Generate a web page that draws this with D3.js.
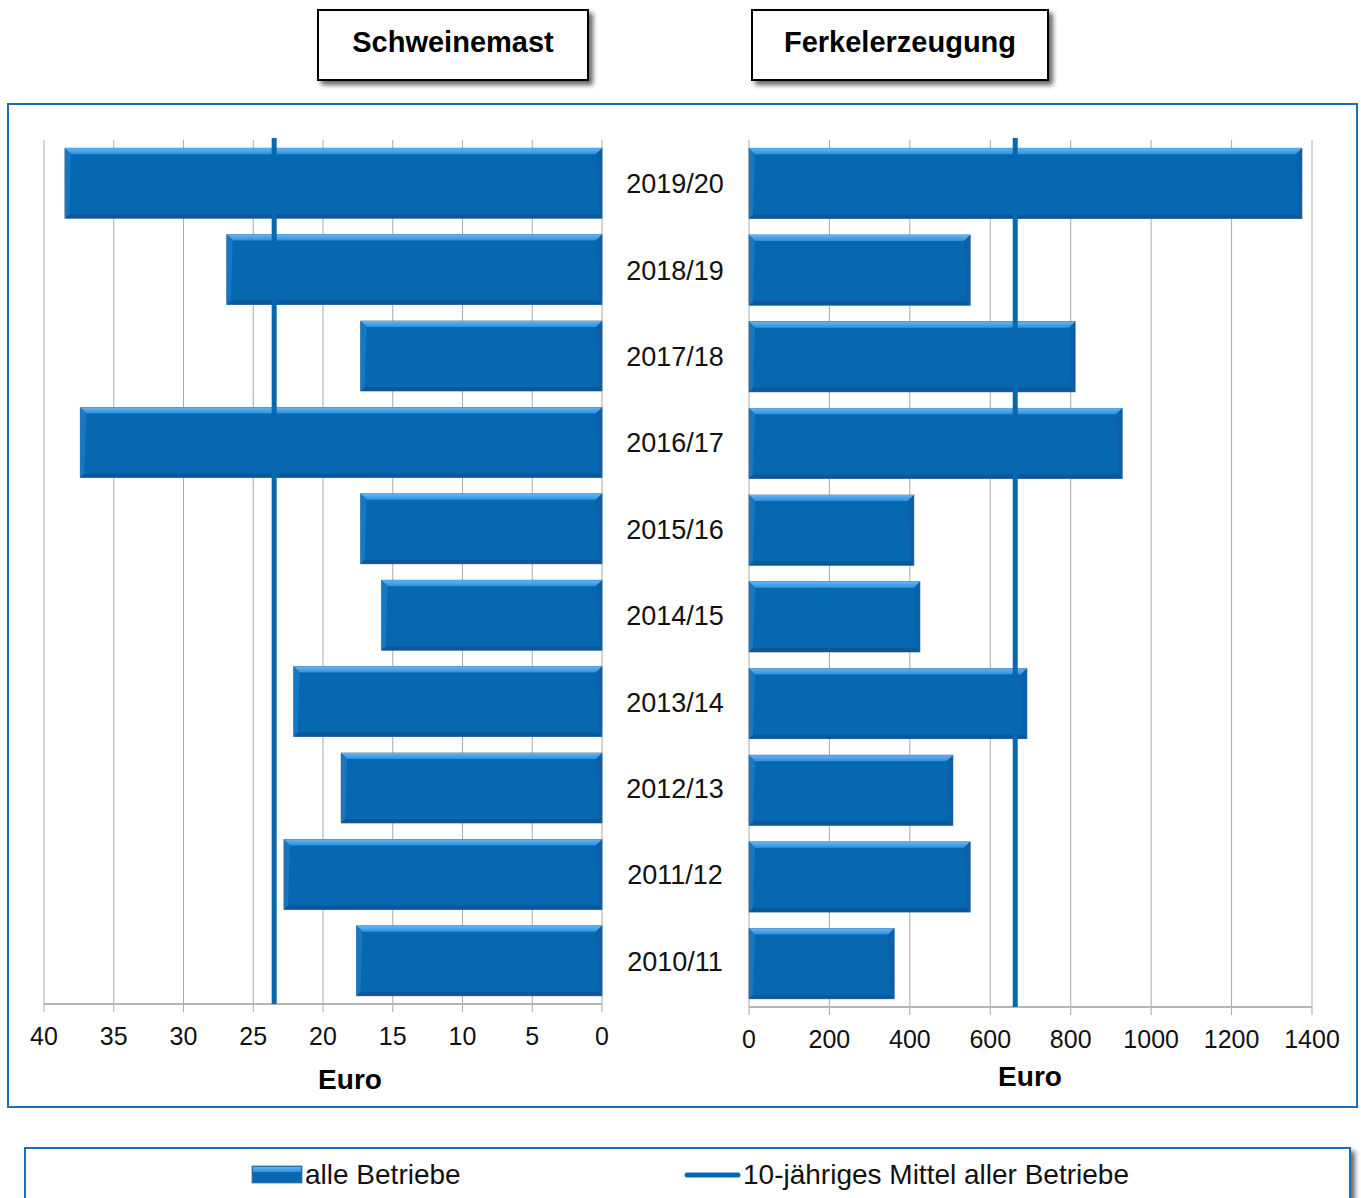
<!DOCTYPE html>
<html>
<head>
<meta charset="utf-8">
<script src="https://cdn.jsdelivr.net/npm/d3@7"></script>
<style>
  body { margin: 0; background: #fff; }
  svg { display: block; font-family: "Liberation Sans", Arial, sans-serif; }
</style>
</head>
<body>
<div class="canvas"></div>
<script>
// data
const years = ['2019/20', '2018/19', '2017/18', '2016/17', '2015/16', '2014/15', '2013/14', '2012/13', '2011/12', '2010/11'];
const mast = [38.5, 26.9, 17.3, 37.4, 17.3, 15.8, 22.1, 18.7, 22.8, 17.6];
const ferkel = [1375, 550, 811, 928, 410, 425, 691, 507, 550, 361];
const mastMean = 23.5;
const ferkelMean = 662;
const mastTicks = [40, 35, 30, 25, 20, 15, 10, 5, 0];
const ferkelTicks = [0, 200, 400, 600, 800, 1000, 1200, 1400];
const titles = ['Schweinemast', 'Ferkelerzeugung'];
const legendLabels = ['alle Betriebe', '10-jähriges Mittel aller Betriebe'];

const blue = '#0568b1';
const frameBlue = '#1a6fb8';
const gridCol = '#a8a8a8';

const svg = d3.select('.canvas')
  .append('svg')
  .attr('width', 1361)
  .attr('height', 1198);

const defs = svg.append('defs');
const topGrad = defs.append('linearGradient')
  .attr('id', 'topBevel').attr('x1', 0).attr('y1', 0).attr('x2', 0).attr('y2', 1);
topGrad.append('stop').attr('offset', '0%').attr('stop-color', '#62b6f4');
topGrad.append('stop').attr('offset', '100%').attr('stop-color', '#2f8fdc');

const shadow = defs.append('filter').attr('id', 'shadow')
  .attr('x', '-10%').attr('y', '-10%').attr('width', '130%').attr('height', '140%');
shadow.append('feGaussianBlur').attr('in', 'SourceAlpha').attr('stdDeviation', 2.5);
shadow.append('feOffset').attr('dx', 4).attr('dy', 4).attr('result', 'off');
shadow.append('feComponentTransfer').append('feFuncA').attr('type', 'linear').attr('slope', 0.6);
const merge = shadow.append('feMerge');
merge.append('feMergeNode');
merge.append('feMergeNode').attr('in', 'SourceGraphic');

// scales
const xL = d3.scaleLinear().domain([0, 40]).range([602, 44]);
const xR = d3.scaleLinear().domain([0, 1400]).range([749, 1312]);
const yL = d3.scaleBand().domain(years).range([140, 1004]).paddingInner(0.19).paddingOuter(0.095);
const yR = d3.scaleBand().domain(years).range([140, 1007]).paddingInner(0.19).paddingOuter(0.095);

// outer frame
svg.append('rect')
  .attr('x', 8).attr('y', 104)
  .attr('width', 1349).attr('height', 1003)
  .attr('fill', '#fff')
  .attr('stroke', frameBlue).attr('stroke-width', 2);

// title boxes
const titleBoxes = [{ x: 318, w: 270 }, { x: 752, w: 296 }];
titleBoxes.forEach((b, i) => {
  svg.append('rect')
    .attr('x', b.x).attr('y', 10)
    .attr('width', b.w).attr('height', 70)
    .attr('fill', '#fff')
    .attr('stroke', '#000').attr('stroke-width', 2)
    .attr('filter', 'url(#shadow)');
  svg.append('text')
    .attr('x', b.x + b.w / 2).attr('y', 52)
    .attr('text-anchor', 'middle')
    .attr('font-size', 29).attr('font-weight', 'bold')
    .text(titles[i]);
});

// bevelled bar
const drawBar = (g, x0, x1, y0, y1) => {
  const b = 6;
  const bar = g.append('g');
  bar.append('rect')
    .attr('x', x0).attr('y', y0)
    .attr('width', x1 - x0).attr('height', y1 - y0)
    .attr('fill', blue)
    .attr('stroke', '#4a7396').attr('stroke-width', 0.8);
  const poly = (pts, fill) => bar.append('polygon')
    .attr('points', pts.map(p => p.join(',')).join(' '))
    .attr('fill', fill);
  poly([[x0, y0], [x1, y0], [x1 - b, y0 + b], [x0 + b, y0 + b]], 'url(#topBevel)');
  poly([[x0, y1], [x1, y1], [x1 - 4, y1 - 4], [x0 + 4, y1 - 4]], '#0a5799');
  poly([[x0, y0], [x0 + b, y0 + b], [x0 + 4, y1 - 4], [x0, y1]], '#1877c3');
  poly([[x1, y0], [x1 - b, y0 + b], [x1 - 4, y1 - 4], [x1, y1]], '#0b60a8');
};

// panel drawing
const drawPanel = (x, y, ticks, values, mean, y0, y1, extent) => {
  const g = svg.append('g');

  // gridlines + ticks
  g.selectAll('.grid')
    .data(ticks)
    .enter().append('line')
      .attr('x1', d => x(d)).attr('x2', d => x(d))
      .attr('y1', y0).attr('y2', y1 + 8)
      .attr('stroke', gridCol).attr('stroke-width', 1);

  // axis line
  g.append('line')
    .attr('x1', x(extent[0])).attr('x2', x(extent[1]))
    .attr('y1', y1).attr('y2', y1)
    .attr('stroke', '#b5b5b5').attr('stroke-width', 2);

  // tick labels
  g.selectAll('.tl')
    .data(ticks)
    .enter().append('text')
      .attr('x', d => x(d)).attr('y', y1 + 41)
      .attr('text-anchor', 'middle')
      .attr('font-size', 25)
      .attr('fill', '#111')
      .text(d => d);

  // bars
  values.forEach((v, i) => {
    const a = x(0), c = x(v);
    drawBar(g, Math.min(a, c), Math.max(a, c), y(years[i]), y(years[i]) + y.bandwidth());
  });

  // mean line
  g.append('line')
    .attr('x1', x(mean)).attr('x2', x(mean))
    .attr('y1', y0 - 2).attr('y2', y1)
    .attr('stroke', blue).attr('stroke-width', 5);
};

drawPanel(xL, yL, mastTicks, mast, mastMean, 140, 1004, [40, 0]);
drawPanel(xR, yR, ferkelTicks, ferkel, ferkelMean, 140, 1007, [0, 1400]);

// year labels
svg.selectAll('.year')
  .data(years)
  .enter().append('text')
    .attr('x', 675)
    .attr('y', d => yL(d) + yL.bandwidth() / 2)
    .attr('dy', '0.37em')
    .attr('text-anchor', 'middle')
    .attr('font-size', 27)
    .attr('fill', '#111')
    .text(d => d);

// axis titles
svg.append('text')
  .attr('x', 350).attr('y', 1089)
  .attr('text-anchor', 'middle')
  .attr('font-size', 28).attr('font-weight', 'bold')
  .text('Euro');
svg.append('text')
  .attr('x', 1030).attr('y', 1086)
  .attr('text-anchor', 'middle')
  .attr('font-size', 28).attr('font-weight', 'bold')
  .text('Euro');

// legend
svg.append('rect')
  .attr('x', 25).attr('y', 1148)
  .attr('width', 1325).attr('height', 80)
  .attr('fill', '#fff')
  .attr('stroke', frameBlue).attr('stroke-width', 2)
  .attr('filter', 'url(#shadow)');

const lg = svg.append('g');
const sw = lg.append('g');
sw.append('rect')
  .attr('x', 252).attr('y', 1166).attr('width', 50).attr('height', 17)
  .attr('fill', blue).attr('stroke', '#4a7396').attr('stroke-width', 0.8);
sw.append('rect')
  .attr('x', 253).attr('y', 1167).attr('width', 48).attr('height', 5)
  .attr('fill', 'url(#topBevel)');
lg.append('text')
  .attr('x', 305).attr('y', 1184)
  .attr('font-size', 28).attr('fill', '#111')
  .text(legendLabels[0]);

lg.append('line')
  .attr('x1', 687).attr('x2', 738)
  .attr('y1', 1175).attr('y2', 1175)
  .attr('stroke', blue).attr('stroke-width', 5)
  .attr('stroke-linecap', 'round');
lg.append('text')
  .attr('x', 743).attr('y', 1184)
  .attr('font-size', 28).attr('fill', '#111')
  .text(legendLabels[1]);
</script>
</body>
</html>
